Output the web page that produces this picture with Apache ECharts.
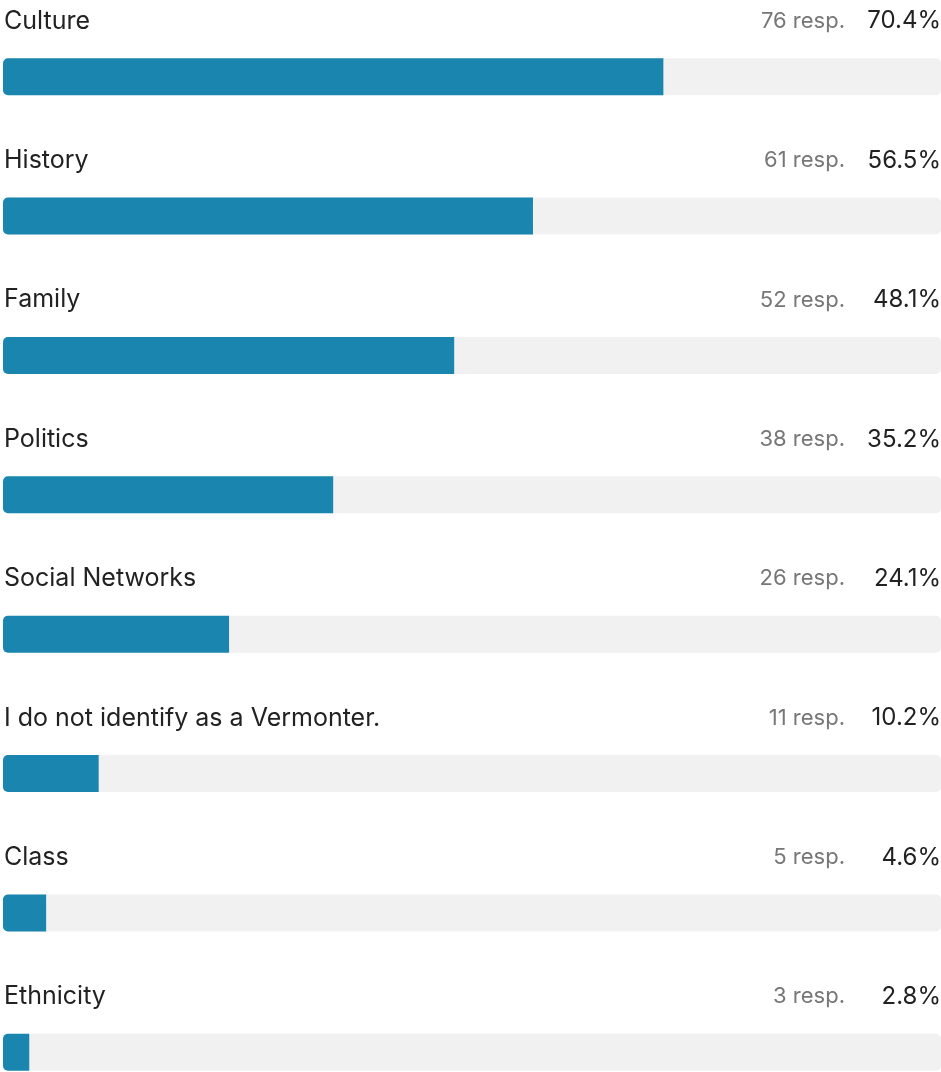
<!DOCTYPE html>
<html>
<head>
<meta charset="utf-8">
<script src="https://cdn.jsdelivr.net/npm/echarts@6/dist/echarts.min.js"></script>
<style>
  html, body { margin: 0; padding: 0; background: #ffffff; }
  #chart { width: 941px; height: 1072px; }
</style>
</head>
<body>
<div id="chart"></div>
<script>
// Survey answers, top to bottom
const categories = [
  'Culture',
  'History',
  'Family',
  'Politics',
  'Social Networks',
  'I do not identify as a Vermonter.',
  'Class',
  'Ethnicity'
];
const responses = [76, 61, 52, 38, 26, 11, 5, 3];
const percents = [70.4, 56.5, 48.1, 35.2, 24.1, 10.2, 4.6, 2.8];
const trackMax = 100;

const FONT = 'Inter, "Noto Sans", sans-serif';
const BLUE = '#1a86b0';
const TRACK = '#f1f1f1';
const LABEL_Y = -37;

const chart = echarts.init(document.getElementById('chart'), null, { renderer: 'canvas' });

const trackData = categories.map(() => trackMax);

chart.setOption({
  animation: false,
  backgroundColor: '#ffffff',
  grid: {
    left: 3, right: 0, top: 7, height: 1115,
    containLabel: false,
    outerBoundsMode: 'none'
  },
  xAxis: {
    type: 'value', min: 0, max: trackMax,
    show: false
  },
  yAxis: {
    type: 'category', data: categories, inverse: true,
    show: false
  },
  series: [
    {
      // full-width grey track, with the percentage on its right end
      name: 'track',
      type: 'bar',
      data: trackData,
      barWidth: 37,
      barGap: '-100%',
      silent: true,
      z: 1,
      itemStyle: { color: TRACK, borderRadius: 5 },
      label: {
        show: true,
        position: [938, LABEL_Y],
        align: 'right',
        verticalAlign: 'middle',
        fontFamily: FONT,
        fontSize: 24,
        color: '#222222',
        formatter: p => percents[p.dataIndex].toFixed(1) + '%'
      }
    },
    {
      // share of respondents, with the answer text above
      name: 'share',
      type: 'bar',
      data: percents,
      barWidth: 37,
      barGap: '-100%',
      silent: true,
      z: 2,
      itemStyle: { color: BLUE, borderRadius: [5, 0, 0, 5] },
      label: {
        show: true,
        position: [1, LABEL_Y],
        align: 'left',
        verticalAlign: 'middle',
        fontFamily: FONT,
        fontSize: 25,
        color: '#222222',
        formatter: p => categories[p.dataIndex]
      }
    },
    {
      // response counts, right-aligned before the percentage
      name: 'responses',
      type: 'bar',
      data: trackData,
      barWidth: 37,
      barGap: '-100%',
      silent: true,
      z: 0,
      itemStyle: { color: 'rgba(0,0,0,0)' },
      label: {
        show: true,
        position: [842, LABEL_Y],
        align: 'right',
        verticalAlign: 'middle',
        fontFamily: FONT,
        fontSize: 22,
        color: '#777777',
        formatter: p => responses[p.dataIndex] + ' resp.'
      }
    }
  ]
});
</script>
</body>
</html>
